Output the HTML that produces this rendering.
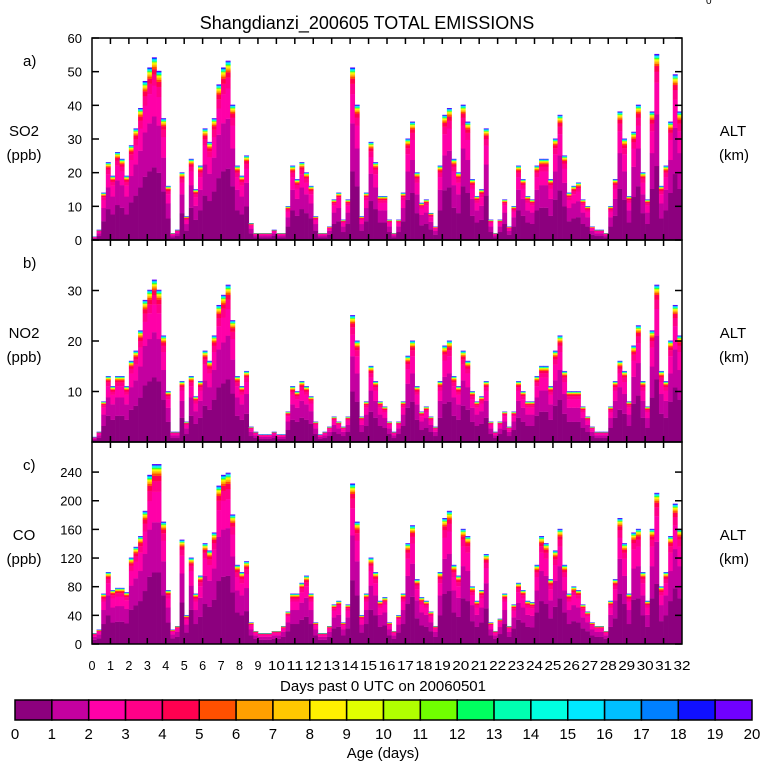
<!DOCTYPE html>
<html><head><meta charset="utf-8"><style>
html,body{margin:0;padding:0;background:#fff;}
svg{display:block;font-family:"Liberation Sans",sans-serif;}
</style></head><body>
<svg id="chart" width="768" height="768" viewBox="0 0 768 768" xmlns="http://www.w3.org/2000/svg">
<text x="367" y="29" font-size="18" text-anchor="middle">Shangdianzi_200605 TOTAL EMISSIONS</text>
<text x="706" y="4" font-size="10">0</text>
<g id="panels"></g>
<g id="xlabels"></g>
<text x="383" y="691" font-size="15" text-anchor="middle">Days past 0 UTC on 20060501</text>
<g id="cbar"></g>
<text x="383" y="758" font-size="15" text-anchor="middle">Age (days)</text>
</svg>
<script>
const days = 32;
const so2 = [1,3,14,23, 19,26,24,19, 28,33,39,47, 51,54,50,36, 16,2,3,20, 7,24,15,22, 33,29,36,46, 51,53,40,22, 19,25,5,2, 2,2,2,3, 2,2,10,22, 18,23,20,16, 7,2,2,4, 12,14,6,12, 51,40,7,14, 29,23,13,13, 6,2,6,14, 30,35,20,11, 12,8,4,22, 37,39,24,20, 40,35,18,13, 15,33,6,2, 6,12,4,10, 22,18,13,12, 22,24,24,18, 30,37,25,14, 16,17,12,10, 4,3,3,2, 10,18,38,30, 13,32,40,20, 12,38,55,16, 22,35,49,38];
const no2 = [1,2,8,13, 11,13,13,11, 16,18,22,28, 30,32,30,21, 10,2,2,12, 4,13,9,12, 18,16,21,27, 29,31,24,13, 11,14,3,2, 1.5,1.5,1.5,2, 1.5,1.5,6,11, 10,12,11,9, 4,1.5,2,3, 5,4,3,5, 25,20,5,8, 15,12,8,7, 4,2,4,8, 17,20,11,6, 7,5,3,12, 19,20,13,11, 18,16,10,8, 9,12,4,2, 4,6,3,6, 12,10,8,8, 13,15,15,11, 18,21,14,10, 10,10,7,5, 3,2,2,2, 7,12,16,14, 8,19,23,12, 7,22,31,14, 12,20,27,21];
const co = [15,20,70,100, 75,78,78,72, 120,135,150,185, 235,250,250,170, 75,20,25,145, 40,120,70,95, 140,130,155,220, 235,238,180,110, 100,115,30,18, 15,15,15,18, 18,25,45,70, 70,85,95,70, 30,15,15,25, 55,60,30,55, 223,170,40,70, 120,100,60,65, 30,18,40,70, 140,165,90,65, 60,45,25,100, 175,185,110,95, 160,150,80,60, 75,125,30,18, 35,70,25,55, 85,75,60,58, 110,150,140,90, 130,160,110,70, 80,75,55,45, 30,25,25,18, 60,90,175,140, 70,155,160,100, 60,160,210,80, 100,150,195,160];
const ageShares = [0.40,0.28,0.17,0.06,0.03,0.012,0.008,0.006,0.005,0.004,0.003,0.003,0.003,0.003,0.003,0.003,0.003,0.003,0.003,0.003];
const ageColors = ["#8c007e","#c400a0","#ff00a8","#ff0088","#ff0050","#ff5000","#ffa000","#ffc800","#fff000","#e0ff00","#b0ff00","#70ff00","#00ff60","#00ffb0","#00ffe0","#00e8ff","#00c0ff","#0080ff","#1010ff","#7000ff"];
const ageTicks = ["0","1","2","3","4","5","6","7","8","9","10","11","12","13","14","15","16","17","18","19","20"];
const panelLetters = ["a)","b)","c)"];
const panelSpecies = ["SO2","NO2","CO"];
const panelMax = [60,40,282];
const panelTicks = [[0,10,20,30,40,50,60],[10,20,30],[0,40,80,120,160,200,240]];
const NS="http://www.w3.org/2000/svg";
const X0=92,X1=682;
const xs = d => X0 + (X1-X0)*d/days;
function mk(tag,attrs,parent){const e=document.createElementNS(NS,tag);for(const k in attrs)e.setAttribute(k,attrs[k]);parent.appendChild(e);return e;}
const panels=document.getElementById('panels');
const series=[so2,no2,co];
const tops=[38,240,442];
for(let p=0;p<3;p++){
  const g=mk('g',{},panels);
  
  
  const yT=tops[p], yB=yT+202;
  const ys = v => yB - 202*v/panelMax[p];
  const data=series[p];
  const bw=(X1-X0)/data.length;
  data.forEach((v,i)=>{
    let cum=0;
    for(let a=0;a<ageShares.length;a++){
      const y1=ys(cum), y2=ys(cum+v*ageShares[a]);
      cum+=v*ageShares[a];
      const r=mk('rect',{x:(xs(i*days/data.length)).toFixed(2),y:y2.toFixed(2),width:(bw+0.3).toFixed(2),height:Math.max(0,y1-y2+0.15).toFixed(2),fill:ageColors[a]},g);
      
      
    }
  });
  const fr=mk('rect',{x:X0,y:yT,width:X1-X0,height:202,fill:'none',stroke:'#000','stroke-width':1.5},g);
  
  
  for(let d=1;d<days;d++){
    mk('line',{x1:xs(d),x2:xs(d),y1:yT,y2:yT+6,stroke:'#000','stroke-width':1.5},g);
    mk('line',{x1:xs(d),x2:xs(d),y1:yB,y2:yB-6,stroke:'#000','stroke-width':1.5},g);
  }
  panelTicks[p].forEach(t=>{
    const y=ys(t);
    mk('line',{x1:X0,x2:X0+7,y1:y,y2:y,stroke:'#000','stroke-width':1.5},g);
    mk('line',{x1:X1,x2:X1-7,y1:y,y2:y,stroke:'#000','stroke-width':1.5},g);
    const tl=mk('text',{x:82,y:y+5,'font-size':13,'text-anchor':'end'},g);
    tl.textContent=t;
    
    
  });
  const lt=mk('text',{x:23,y:yT+28,'font-size':15},g);lt.textContent=panelLetters[p];
  
  
  const sp=mk('text',{x:24,y:yT+98,'font-size':15,'text-anchor':'middle'},g);sp.textContent=panelSpecies[p];
  
  
  const un=mk('text',{x:24,y:yT+122,'font-size':15,'text-anchor':'middle'},g);un.textContent='(ppb)';
  
  
  const al=mk('text',{x:733,y:yT+98,'font-size':15,'text-anchor':'middle'},g);al.textContent='ALT';
  
  
  const km=mk('text',{x:734,y:yT+122,'font-size':15,'text-anchor':'middle'},g);km.textContent='(km)';
  
  
}
const xl=document.getElementById('xlabels');
for(let d=0;d<=days;d++){
  const t=mk('text',{x:xs(d),y:670,'font-size':13,'text-anchor':'middle','textLength':(d>=10?17:7),'lengthAdjust':'spacingAndGlyphs'},xl);
  t.textContent=d;
  
  
}
const cb=document.getElementById('cbar');
const cx0=15,cx1=752,cw=(cx1-cx0)/ageColors.length;
ageColors.forEach((c,i)=>{
  const r=mk('rect',{x:cx0+i*cw,y:700,width:cw,height:20,fill:c,stroke:'#000','stroke-width':1.5},cb);
  
  
});
ageTicks.forEach((t,i)=>{
  const tx=mk('text',{x:cx0+i*cw,y:739,'font-size':15,'text-anchor':'middle'},cb);
  tx.textContent=t;
  
  
});
</script>
</body></html>
